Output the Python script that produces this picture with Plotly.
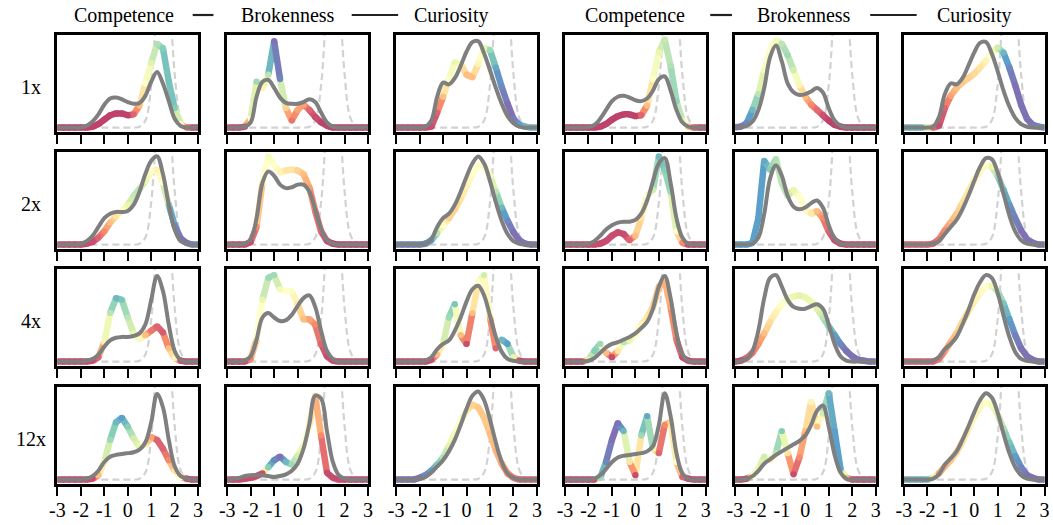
import plotly.graph_objects as go

W, H = 1053, 525

X_GRID = [-3.0, -2.75, -2.5, -2.25, -2.0, -1.75, -1.5, -1.25, -1.0, -0.75, -0.5, -0.25,
          0.0, 0.25, 0.5, 0.75, 1.0, 1.25, 1.5, 1.75, 2.0, 2.25, 2.5, 2.75, 3.0]
TICK_VALUES = [-3, -2, -1, 0, 1, 2, 3]
TICK_LABELS = ["-3", "-2", "-1", "0", "1", "2", "3"]
ROW_LABELS = ["1x", "2x", "4x", "12x"]
TRAITS = ["Competence", "Brokenness", "Curiosity"]

# light dashed reference density (same in every panel, clipped at the top)
REFERENCE = [0, 0, 0, 0, 0, 0, 0, 0, 0, 0, 0, 0, 0, 0, 0.01, 0.08, 0.48, 1.47, 2.2, 1.65, 0.61, 0.11, 0.01, 0, 0]

# ---- grey density curves, one list per column (Competence, Brokenness, Curiosity, x2)
GRAY_1X = [
    [0, 0, 0, 0, 0, 0.02, 0.07, 0.15, 0.26, 0.33, 0.34, 0.32, 0.29, 0.27, 0.28, 0.36, 0.52, 0.63, 0.5, 0.3, 0.1, 0.02, 0, 0, 0],
    [0, 0, 0, 0.01, 0.06, 0.35, 0.52, 0.54, 0.45, 0.34, 0.28, 0.27, 0.27, 0.29, 0.32, 0.29, 0.17, 0.06, 0.01, 0, 0, 0, 0, 0, 0],
    [0, 0, 0, 0, 0, 0.01, 0.08, 0.35, 0.51, 0.49, 0.56, 0.7, 0.86, 0.97, 0.98, 0.84, 0.65, 0.45, 0.27, 0.13, 0.05, 0.01, 0, 0, 0],
    [0, 0, 0, 0, 0.005, 0.03, 0.1, 0.2, 0.3, 0.35, 0.36, 0.34, 0.31, 0.3, 0.33, 0.42, 0.55, 0.58, 0.42, 0.2, 0.06, 0.01, 0, 0, 0],
    [0, 0.005, 0.02, 0.07, 0.2, 0.45, 0.8, 0.93, 0.75, 0.5, 0.4, 0.37, 0.38, 0.41, 0.45, 0.4, 0.22, 0.08, 0.02, 0, 0, 0, 0, 0, 0],
    [0, 0, 0, 0, 0, 0.01, 0.12, 0.38, 0.5, 0.49, 0.56, 0.7, 0.85, 0.96, 0.97, 0.84, 0.64, 0.42, 0.24, 0.11, 0.04, 0.01, 0, 0, 0],
]
GRAY_2X = [
    [0, 0, 0, 0, 0.01, 0.04, 0.1, 0.2, 0.3, 0.35, 0.37, 0.37, 0.38, 0.45, 0.6, 0.8, 0.95, 1.0, 0.8, 0.45, 0.17, 0.04, 0.01, 0, 0],
    [0, 0, 0, 0.01, 0.06, 0.3, 0.7, 0.83, 0.78, 0.68, 0.64, 0.65, 0.68, 0.68, 0.6, 0.4, 0.18, 0.05, 0.01, 0, 0, 0, 0, 0, 0],
    [0, 0, 0, 0, 0, 0.01, 0.06, 0.2, 0.3, 0.35, 0.45, 0.6, 0.77, 0.92, 1.0, 0.92, 0.72, 0.48, 0.27, 0.12, 0.04, 0.01, 0, 0, 0],
    [0, 0, 0, 0, 0.01, 0.04, 0.1, 0.17, 0.22, 0.25, 0.26, 0.26, 0.28, 0.35, 0.5, 0.72, 0.92, 0.98, 0.7, 0.3, 0.08, 0.01, 0, 0, 0],
    [0, 0, 0, 0.01, 0.08, 0.35, 0.75, 0.9, 0.78, 0.55, 0.43, 0.4, 0.42, 0.47, 0.5, 0.42, 0.22, 0.07, 0.01, 0, 0, 0, 0, 0, 0],
    [0, 0, 0, 0, 0, 0.01, 0.04, 0.12, 0.2, 0.28, 0.4, 0.55, 0.72, 0.88, 0.98, 0.97, 0.82, 0.58, 0.33, 0.15, 0.05, 0.01, 0, 0, 0],
]
GRAY_4X = [
    [0, 0, 0, 0, 0, 0.01, 0.03, 0.08, 0.17, 0.24, 0.27, 0.28, 0.28, 0.29, 0.32, 0.42, 0.7, 0.97, 0.8, 0.42, 0.12, 0.02, 0, 0, 0],
    [0, 0, 0, 0.01, 0.06, 0.25, 0.5, 0.55, 0.5, 0.46, 0.47, 0.53, 0.63, 0.72, 0.75, 0.62, 0.35, 0.12, 0.03, 0, 0, 0, 0, 0, 0],
    [0, 0, 0, 0, 0, 0.01, 0.05, 0.14, 0.2, 0.24, 0.35, 0.5, 0.68, 0.82, 0.86, 0.75, 0.52, 0.28, 0.11, 0.03, 0.01, 0, 0, 0, 0],
    [0, 0, 0, 0, 0.01, 0.04, 0.1, 0.16, 0.2, 0.22, 0.25, 0.28, 0.32, 0.38, 0.45, 0.6, 0.85, 0.97, 0.72, 0.32, 0.08, 0.01, 0, 0, 0],
    [0, 0.005, 0.03, 0.12, 0.35, 0.72, 0.95, 0.98, 0.85, 0.7, 0.62, 0.6, 0.6, 0.63, 0.65, 0.6, 0.42, 0.2, 0.06, 0.01, 0, 0, 0, 0, 0],
    [0, 0, 0, 0, 0, 0.01, 0.05, 0.14, 0.2, 0.28, 0.42, 0.58, 0.76, 0.9, 0.98, 0.95, 0.78, 0.52, 0.28, 0.11, 0.03, 0.01, 0, 0, 0],
]
GRAY_12X = [
    [0, 0, 0, 0, 0, 0.01, 0.04, 0.1, 0.2, 0.26, 0.28, 0.29, 0.3, 0.31, 0.34, 0.42, 0.65, 0.97, 0.82, 0.45, 0.15, 0.04, 0.01, 0, 0],
    [0, 0.005, 0.02, 0.04, 0.05, 0.05, 0.05, 0.04, 0.03, 0.04, 0.06, 0.1, 0.18, 0.35, 0.63, 0.95, 0.92, 0.55, 0.2, 0.05, 0.01, 0, 0, 0, 0],
    [0, 0, 0, 0, 0.01, 0.03, 0.08, 0.15, 0.22, 0.32, 0.45, 0.62, 0.8, 0.95, 1.0, 0.9, 0.68, 0.42, 0.2, 0.07, 0.02, 0, 0, 0, 0],
    [0, 0, 0, 0, 0, 0.01, 0.05, 0.12, 0.2, 0.25, 0.27, 0.28, 0.29, 0.3, 0.32, 0.38, 0.62, 0.98, 0.72, 0.3, 0.07, 0.01, 0, 0, 0],
    [0, 0, 0.01, 0.04, 0.1, 0.18, 0.23, 0.28, 0.32, 0.36, 0.4, 0.44, 0.5, 0.62, 0.78, 0.84, 0.6, 0.28, 0.08, 0.01, 0, 0, 0, 0, 0],
    [0, 0, 0, 0, 0, 0.01, 0.06, 0.17, 0.24, 0.32, 0.45, 0.6, 0.76, 0.9, 0.98, 0.93, 0.76, 0.52, 0.3, 0.14, 0.05, 0.01, 0, 0, 0],
]

# ---- coloured density curves
COLOR_1X = [
    [0, 0, 0, 0, 0, 0, 0.01, 0.04, 0.09, 0.14, 0.16, 0.16, 0.14, 0.15, 0.25, 0.5, 0.73, 0.95, 0.9, 0.52, 0.22, 0.04, 0, 0, 0],
    [0, 0, 0, 0.01, 0.1, 0.52, 0.45, 0.6, 0.98, 0.55, 0.22, 0.08, 0.2, 0.26, 0.2, 0.12, 0.06, 0.02, 0, 0, 0, 0, 0, 0, 0],
    [0, 0, 0, 0, 0, 0, 0.01, 0.17, 0.35, 0.55, 0.74, 0.72, 0.6, 0.57, 0.72, 0.9, 0.88, 0.68, 0.46, 0.27, 0.1, 0.03, 0.01, 0, 0],
    [0, 0, 0, 0, 0, 0, 0.01, 0.04, 0.09, 0.13, 0.15, 0.15, 0.13, 0.14, 0.25, 0.55, 0.85, 1.0, 0.7, 0.3, 0.08, 0.01, 0, 0, 0],
    [0.005, 0.01, 0.05, 0.2, 0.38, 0.65, 0.88, 0.99, 0.95, 0.82, 0.65, 0.48, 0.35, 0.26, 0.2, 0.14, 0.08, 0.03, 0.01, 0, 0, 0, 0, 0, 0],
    [0, 0, 0, 0, 0, 0, 0.02, 0.22, 0.36, 0.45, 0.51, 0.56, 0.61, 0.68, 0.76, 0.85, 0.91, 0.85, 0.68, 0.48, 0.26, 0.1, 0.03, 0.01, 0],
]
COLOR_2X = [
    [0, 0, 0, 0, 0, 0.01, 0.03, 0.08, 0.15, 0.25, 0.32, 0.38, 0.45, 0.55, 0.63, 0.72, 0.83, 0.85, 0.7, 0.45, 0.22, 0.07, 0.02, 0, 0],
    [0, 0, 0, 0, 0.03, 0.2, 0.7, 1.0, 0.9, 0.82, 0.84, 0.85, 0.84, 0.8, 0.65, 0.38, 0.15, 0.04, 0.01, 0, 0, 0, 0, 0, 0],
    [0, 0, 0, 0, 0, 0.01, 0.05, 0.13, 0.22, 0.3, 0.4, 0.52, 0.66, 0.8, 0.9, 0.9, 0.78, 0.6, 0.42, 0.27, 0.14, 0.05, 0.01, 0, 0],
    [0, 0, 0, 0, 0, 0, 0.01, 0.04, 0.1, 0.14, 0.12, 0.05, 0.1, 0.3, 0.55, 0.62, 1.0, 0.85, 0.6, 0.15, 0.02, 0, 0, 0, 0],
    [0, 0, 0, 0.02, 0.3, 0.95, 0.85, 0.97, 0.7, 0.55, 0.62, 0.55, 0.4, 0.35, 0.38, 0.3, 0.15, 0.05, 0.01, 0, 0, 0, 0, 0, 0],
    [0, 0, 0, 0, 0, 0.01, 0.06, 0.16, 0.25, 0.35, 0.47, 0.6, 0.73, 0.84, 0.9, 0.88, 0.78, 0.62, 0.45, 0.3, 0.16, 0.06, 0.02, 0, 0],
]
COLOR_4X = [
    [0, 0, 0, 0, 0, 0, 0.01, 0.05, 0.22, 0.55, 0.72, 0.7, 0.5, 0.32, 0.26, 0.3, 0.35, 0.4, 0.33, 0.15, 0.04, 0.01, 0, 0, 0],
    [0, 0, 0, 0, 0.03, 0.25, 0.7, 0.95, 0.98, 0.82, 0.8, 0.8, 0.65, 0.48, 0.48, 0.42, 0.2, 0.06, 0.01, 0, 0, 0, 0, 0, 0],
    [0, 0, 0, 0, 0, 0, 0.02, 0.08, 0.2, 0.5, 0.65, 0.3, 0.2, 0.55, 0.9, 0.98, 0.5, 0.15, 0.25, 0.2, 0.05, 0.01, 0, 0, 0],
    [0, 0, 0, 0, 0.02, 0.12, 0.2, 0.1, 0.05, 0.12, 0.22, 0.24, 0.3, 0.42, 0.5, 0.62, 0.85, 0.92, 0.62, 0.25, 0.05, 0.01, 0, 0, 0],
    [0, 0.01, 0.04, 0.1, 0.2, 0.32, 0.45, 0.56, 0.65, 0.71, 0.74, 0.75, 0.73, 0.68, 0.6, 0.5, 0.4, 0.3, 0.2, 0.12, 0.06, 0.02, 0.01, 0, 0],
    [0, 0, 0, 0, 0, 0, 0.03, 0.12, 0.22, 0.32, 0.45, 0.57, 0.68, 0.78, 0.85, 0.86, 0.8, 0.66, 0.48, 0.3, 0.15, 0.06, 0.02, 0, 0],
]
COLOR_12X = [
    [0, 0, 0, 0, 0, 0, 0.01, 0.05, 0.2, 0.45, 0.65, 0.7, 0.6, 0.47, 0.37, 0.4, 0.48, 0.45, 0.35, 0.22, 0.1, 0.03, 0.01, 0, 0],
    [0, 0, 0, 0.01, 0.02, 0.04, 0.07, 0.14, 0.22, 0.26, 0.2, 0.17, 0.27, 0.38, 0.62, 0.95, 0.5, 0.08, 0.02, 0, 0, 0, 0, 0, 0],
    [0, 0, 0, 0, 0.02, 0.05, 0.1, 0.17, 0.25, 0.38, 0.52, 0.66, 0.78, 0.85, 0.82, 0.7, 0.52, 0.33, 0.18, 0.07, 0.02, 0, 0, 0, 0],
    [0, 0, 0, 0, 0, 0, 0.02, 0.2, 0.45, 0.64, 0.55, 0.2, 0.05, 0.5, 0.72, 0.35, 0.3, 0.62, 0.65, 0.2, 0.03, 0.01, 0, 0, 0],
    [0, 0, 0.01, 0.04, 0.12, 0.26, 0.22, 0.3, 0.55, 0.3, 0.06, 0.25, 0.55, 0.88, 0.6, 0.75, 0.98, 0.55, 0.12, 0.02, 0, 0, 0, 0, 0],
    [0, 0, 0, 0, 0, 0.02, 0.07, 0.15, 0.22, 0.31, 0.43, 0.57, 0.71, 0.83, 0.88, 0.85, 0.74, 0.58, 0.42, 0.27, 0.14, 0.05, 0.02, 0, 0],
]

# ---- colour value (0 = red ... 1 = purple on the Spectral scale) along each coloured curve
HUE_1X = [
    [0.03, 0.03, 0.03, 0.03, 0.03, 0.03, 0.03, 0.03, 0.03, 0.03, 0.03, 0.03, 0.03, 0.1, 0.3, 0.5, 0.62, 0.72, 0.8, 0.83, 0.8, 0.5, 0.15, 0.05, 0.03],
    [0.05, 0.05, 0.05, 0.05, 0.5, 0.75, 0.45, 0.7, 1.0, 0.95, 0.35, 0.15, 0.25, 0.25, 0.1, 0.05, 0.03, 0.03, 0.03, 0.03, 0.03, 0.03, 0.03, 0.03, 0.03],
    [0.05, 0.05, 0.05, 0.05, 0.05, 0.05, 0.05, 0.1, 0.3, 0.5, 0.6, 0.45, 0.3, 0.3, 0.45, 0.6, 0.75, 0.88, 0.95, 1.0, 0.98, 0.9, 0.85, 0.85, 0.85],
    [0.03, 0.03, 0.03, 0.03, 0.03, 0.03, 0.03, 0.03, 0.03, 0.03, 0.03, 0.03, 0.03, 0.1, 0.3, 0.5, 0.6, 0.68, 0.72, 0.78, 0.6, 0.35, 0.1, 0.05, 0.03],
    [1.0, 1.0, 0.95, 0.85, 0.7, 0.55, 0.5, 0.55, 0.7, 0.75, 0.65, 0.45, 0.3, 0.2, 0.12, 0.06, 0.03, 0.03, 0.03, 0.03, 0.03, 0.03, 0.03, 0.03, 0.03],
    [0.85, 0.85, 0.85, 0.85, 0.6, 0.1, 0.05, 0.1, 0.25, 0.3, 0.33, 0.35, 0.37, 0.4, 0.45, 0.55, 0.65, 0.85, 0.95, 1.0, 1.0, 1.0, 0.98, 0.95, 0.95],
]
HUE_2X = [
    [0.05, 0.05, 0.05, 0.05, 0.05, 0.05, 0.05, 0.1, 0.2, 0.3, 0.4, 0.5, 0.6, 0.68, 0.7, 0.6, 0.5, 0.45, 0.5, 0.8, 0.95, 1.0, 1.0, 0.95, 0.95],
    [0.05, 0.05, 0.05, 0.05, 0.05, 0.2, 0.45, 0.55, 0.5, 0.45, 0.4, 0.4, 0.35, 0.3, 0.25, 0.15, 0.1, 0.05, 0.03, 0.03, 0.03, 0.03, 0.03, 0.03, 0.03],
    [0.95, 0.95, 0.95, 0.95, 0.95, 0.95, 0.9, 0.7, 0.5, 0.35, 0.35, 0.4, 0.45, 0.5, 0.5, 0.5, 0.55, 0.7, 0.85, 0.95, 1.0, 1.0, 1.0, 1.0, 1.0],
    [0.05, 0.05, 0.05, 0.05, 0.05, 0.05, 0.05, 0.05, 0.05, 0.05, 0.05, 0.1, 0.3, 0.4, 0.5, 0.65, 0.85, 0.8, 0.75, 0.5, 0.2, 0.05, 0.05, 0.05, 0.05],
    [0.9, 0.9, 0.9, 0.9, 0.9, 0.88, 0.8, 0.72, 0.7, 0.68, 0.6, 0.5, 0.48, 0.42, 0.3, 0.2, 0.1, 0.05, 0.05, 0.05, 0.05, 0.05, 0.05, 0.05, 0.05],
    [0.1, 0.1, 0.1, 0.1, 0.1, 0.1, 0.15, 0.2, 0.28, 0.33, 0.38, 0.42, 0.45, 0.47, 0.5, 0.6, 0.75, 0.85, 0.92, 0.97, 1.0, 1.0, 1.0, 1.0, 1.0],
]
HUE_4X = [
    [0.05, 0.05, 0.05, 0.05, 0.05, 0.05, 0.05, 0.1, 0.45, 0.7, 0.85, 0.82, 0.7, 0.6, 0.55, 0.3, 0.15, 0.1, 0.08, 0.3, 0.45, 0.05, 0.05, 0.05, 0.05],
    [0.05, 0.05, 0.05, 0.05, 0.2, 0.4, 0.6, 0.75, 0.75, 0.55, 0.5, 0.52, 0.4, 0.3, 0.25, 0.2, 0.1, 0.05, 0.05, 0.05, 0.05, 0.05, 0.05, 0.05, 0.05],
    [0.05, 0.05, 0.05, 0.05, 0.05, 0.05, 0.05, 0.3, 0.55, 0.75, 0.82, 0.3, 0.05, 0.3, 0.5, 0.65, 0.3, 0.1, 0.85, 0.9, 0.6, 0.05, 0.05, 0.05, 0.05],
    [0.05, 0.05, 0.05, 0.05, 0.6, 0.8, 0.75, 0.3, 0.05, 0.4, 0.7, 0.6, 0.5, 0.45, 0.4, 0.35, 0.3, 0.28, 0.25, 0.15, 0.05, 0.05, 0.05, 0.05, 0.05],
    [0.05, 0.05, 0.1, 0.15, 0.22, 0.3, 0.38, 0.45, 0.5, 0.55, 0.6, 0.62, 0.6, 0.58, 0.62, 0.7, 0.8, 0.9, 0.95, 1.0, 1.0, 1.0, 1.0, 1.0, 1.0],
    [0.1, 0.1, 0.1, 0.1, 0.1, 0.1, 0.15, 0.22, 0.28, 0.32, 0.36, 0.4, 0.44, 0.47, 0.5, 0.58, 0.7, 0.82, 0.9, 0.97, 1.0, 1.0, 1.0, 1.0, 1.0],
]
HUE_12X = [
    [0.05, 0.05, 0.05, 0.05, 0.05, 0.05, 0.05, 0.3, 0.55, 0.75, 0.85, 0.9, 0.8, 0.65, 0.6, 0.4, 0.25, 0.1, 0.1, 0.2, 0.4, 0.5, 0.05, 0.05, 0.05],
    [0.05, 0.05, 0.05, 0.05, 0.05, 0.05, 0.05, 0.8, 0.95, 1.0, 0.85, 0.75, 0.65, 0.55, 0.45, 0.35, 0.2, 0.05, 0.05, 0.05, 0.05, 0.05, 0.05, 0.05, 0.05],
    [1.0, 1.0, 1.0, 1.0, 1.0, 0.95, 0.9, 0.82, 0.72, 0.62, 0.55, 0.5, 0.42, 0.35, 0.33, 0.33, 0.3, 0.28, 0.25, 0.2, 0.15, 0.1, 0.1, 0.1, 0.1],
    [0.05, 0.05, 0.05, 0.05, 0.05, 0.05, 0.75, 0.95, 1.0, 1.0, 0.85, 0.4, 0.05, 0.75, 0.88, 0.6, 0.1, 0.2, 0.35, 0.5, 0.1, 0.05, 0.05, 0.05, 0.05],
    [0.05, 0.05, 0.05, 0.5, 0.6, 0.65, 0.45, 0.7, 0.8, 0.4, 0.05, 0.2, 0.3, 0.45, 0.3, 0.65, 0.85, 0.9, 0.9, 0.3, 0.05, 0.05, 0.05, 0.05, 0.05],
    [0.85, 0.85, 0.85, 0.85, 0.85, 0.6, 0.25, 0.28, 0.32, 0.36, 0.4, 0.43, 0.45, 0.47, 0.5, 0.55, 0.62, 0.72, 0.82, 0.9, 0.96, 1.0, 1.0, 1.0, 1.0],
]

GRAY_ROWS = [GRAY_1X, GRAY_2X, GRAY_4X, GRAY_12X]
COLOR_ROWS = [COLOR_1X, COLOR_2X, COLOR_4X, COLOR_12X]
HUE_ROWS = [HUE_1X, HUE_2X, HUE_4X, HUE_12X]

# ---- layout geometry (pixels)
COL_LEFT = [50, 222, 393, 564, 736, 907]
PANEL_W = 142.5
ROW_TOP = [35, 152, 269, 387]
PANEL_H = 97

FONT = "Liberation Serif, Times New Roman, serif"

SPECTRAL = [(158, 1, 66), (213, 62, 79), (244, 109, 67), (253, 174, 97), (254, 224, 139),
            (255, 255, 191), (230, 245, 152), (171, 221, 164), (102, 194, 165), (50, 136, 189), (94, 79, 162)]


def spectral(v):
    v = min(max(v, 0.0), 1.0) * 10
    i = min(int(v), 9)
    t = v - i
    a, b = SPECTRAL[i], SPECTRAL[i + 1]
    rgb = [a[j] + (b[j] - a[j]) * t for j in range(3)]
    rgb = [255 - (255 - c) * 0.8 for c in rgb]
    return "rgb(%d,%d,%d)" % tuple(int(round(c)) for c in rgb)


fig = go.Figure()
layout = dict(
    width=W, height=H, margin=dict(l=0, r=0, t=0, b=0),
    paper_bgcolor="white", plot_bgcolor="white", showlegend=False,
    font=dict(family=FONT, size=20, color="black"),
)
annotations = []
shapes = []

for r in range(4):
    for c in range(6):
        k = r * 6 + c + 1
        xname = "x" if k == 1 else "x%d" % k
        yname = "y" if k == 1 else "y%d" % k
        left = COL_LEFT[c]
        top = ROW_TOP[r]
        layout["xaxis" if k == 1 else "xaxis%d" % k] = dict(
            domain=[left / W, (left + PANEL_W) / W], anchor=yname, range=[-3, 3],
            showline=True, mirror=True, linewidth=2.6, linecolor="black",
            ticks="outside", ticklen=9, tickwidth=2.2, tickcolor="black",
            tickvals=TICK_VALUES, ticktext=TICK_LABELS, showticklabels=(r == 3),
            tickfont=dict(family=FONT, size=20, color="black"), ticklabelstandoff=-3,
            showgrid=False, zeroline=False, fixedrange=True,
        )
        layout["yaxis" if k == 1 else "yaxis%d" % k] = dict(
            domain=[1 - (top + PANEL_H) / H, 1 - top / H], anchor=xname, range=[-0.05, 1.05],
            showline=True, mirror=True, linewidth=2.6, linecolor="black",
            ticks="", showticklabels=False, showgrid=False, zeroline=False, fixedrange=True,
        )

        # dashed reference
        fig.add_trace(go.Scatter(
            x=X_GRID, y=REFERENCE, mode="lines", xaxis=xname, yaxis=yname,
            line=dict(color="#d2d2d2", width=2.2, dash="7px,4px", shape="spline"),
            hoverinfo="skip", cliponaxis=True))

        # coloured curve: straight pieces grouped by colour
        ys = COLOR_ROWS[r][c]
        hs = HUE_ROWS[r][c]
        groups = {}
        for i in range(len(X_GRID) - 1):
            col = spectral(round((hs[i] + hs[i + 1]) / 2 * 40) / 40)
            g = groups.setdefault(col, ([], []))
            g[0].extend([X_GRID[i], X_GRID[i + 1], None])
            g[1].extend([ys[i], ys[i + 1], None])
        for col, (gx, gy) in groups.items():
            fig.add_trace(go.Scatter(
                x=gx, y=gy, mode="lines", xaxis=xname, yaxis=yname,
                line=dict(color=col, width=6.5), hoverinfo="skip", connectgaps=False))
        fig.add_trace(go.Scatter(
            x=X_GRID, y=ys, mode="markers", xaxis=xname, yaxis=yname,
            marker=dict(size=6.3, color=[spectral(h) for h in hs], line=dict(width=0)),
            hoverinfo="skip"))

        # grey curve
        fig.add_trace(go.Scatter(
            x=X_GRID, y=GRAY_ROWS[r][c], mode="lines", xaxis=xname, yaxis=yname,
            line=dict(color="#7f7f7f", width=4.0, shape="spline", smoothing=1.0),
            hoverinfo="skip"))

# row labels
for r in range(4):
    yc = ROW_TOP[r] + PANEL_H / 2 + 3
    annotations.append(dict(x=23 / W, y=1 - yc / H, xref="paper", yref="paper",
                            text=ROW_LABELS[r], showarrow=False, xanchor="center", yanchor="middle",
                            font=dict(family=FONT, size=20, color="black")))

# legend-like headers (two groups)
LEGEND_TEXT_X = [[117, 284, 449], [635, 806, 978]]
LEGEND_LINES = [[(187, 208), (348, 395)], [(711, 733), (873, 920)]]
for gi in range(2):
    for ti, name in enumerate(TRAITS):
        annotations.append(dict(x=LEGEND_TEXT_X[gi][ti] / W, y=1 - 15 / H, xref="paper", yref="paper",
                                text=name, showarrow=False, xanchor="center", yanchor="middle",
                                font=dict(family=FONT, size=20, color="black")))
    for (x0, x1) in LEGEND_LINES[gi]:
        shapes.append(dict(type="line", xref="paper", yref="paper", x0=x0 / W, x1=x1 / W,
                           y0=1 - 15 / H, y1=1 - 15 / H, line=dict(color="#222222", width=2.2)))

layout["annotations"] = annotations
layout["shapes"] = shapes
fig.update_layout(**layout)
fig.write_html("out.html", config={"displayModeBar": False},
               post_script="document.body.style.margin='0px';document.body.style.padding='0px';")
